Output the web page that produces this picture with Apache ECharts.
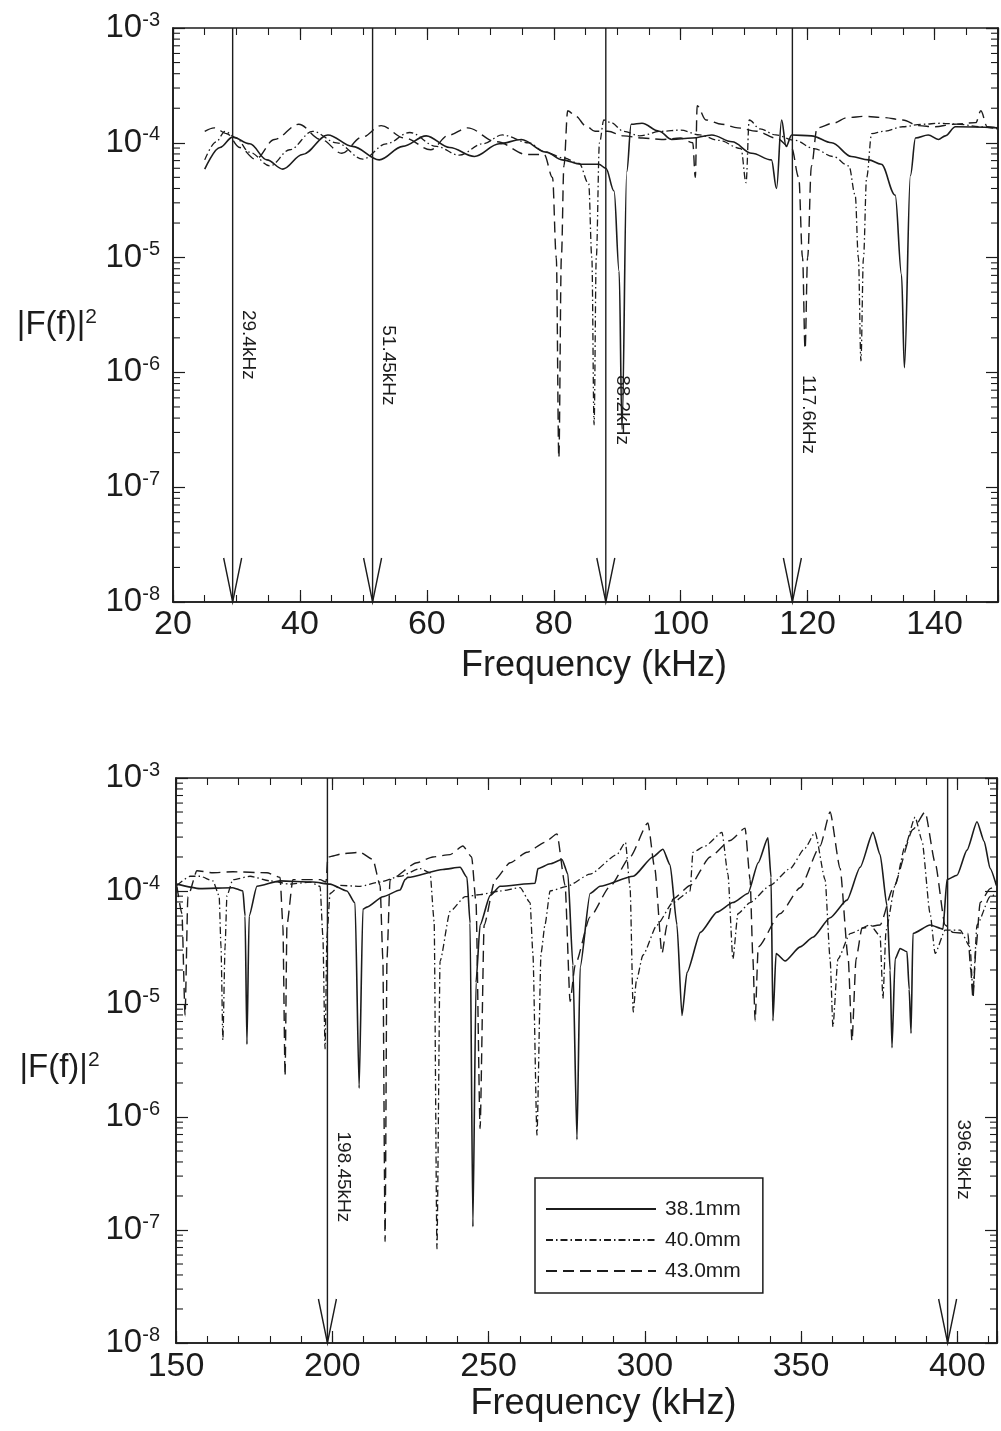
<!DOCTYPE html>
<html>
<head>
<meta charset="utf-8">
<script src="https://cdn.jsdelivr.net/npm/echarts/dist/echarts.min.js"></script>
<style>
html,body{margin:0;padding:0;background:#fff;}
#chart{width:1001px;height:1431px;}
</style>
</head>
<body>
<div id="chart"></div>
<script>
// ---------------- DATA ----------------
const seriesNames = ['38.1mm', '40.0mm', '43.0mm'];

const topFreqRange = [20, 150];
const bottomFreqRange = [150, 412.7];
const ampRange = [1e-8, 1e-3];
const topFreqTickStep = [20, 5];
const bottomFreqTickStep = [50, 10];

const topMarkerFreqs = [29.4, 51.45, 88.2, 117.6];
const topMarkerTexts = ['29.4kHz', '51.45kHz', '88.2kHz', '117.6kHz'];
const bottomMarkerFreqs = [198.45, 396.9];
const bottomMarkerTexts = ['198.45kHz', '396.9kHz'];

// |F(f)|^2 vs frequency (kHz), upper panel
const top381 = [[25.0,5.9e-5],[27.4,9.1e-5],[29.4,1.12e-4],[32.1,9.8e-5],[34.8,7.1e-5],[37.3,5.9e-5],[40.4,7.9e-5],[44.4,1.17e-4],[48.3,9.3e-5],[52.5,7.1e-5],[56.2,9.3e-5],[59.9,1.15e-4],[63.6,9.1e-5],[67.5,7.6e-5],[71.4,9.8e-5],[74.9,1.07e-4],[78.8,8.3e-5],[81.3,7.1e-5],[84.3,6.5e-5],[87.1,6.5e-5],[88.2,6.0e-5],[89.5,3.8e-5],[90.3,7.6e-6],[90.75,3.2e-7],[91.5,5.6e-5],[92.2,1.45e-4],[93.9,1.48e-4],[96.6,1.26e-4],[98.6,1.07e-4],[101.8,1.1e-4],[104.9,1.17e-4],[108.1,1.02e-4],[111.2,8.1e-5],[114.3,7.1e-5],[115.1,4.0e-5],[115.9,1.58e-4],[116.6,9.3e-5],[117.5,1.17e-4],[120.6,1.15e-4],[123.8,1.0e-4],[126.9,7.6e-5],[129.6,7.1e-5],[131.6,6.5e-5],[133.8,3.5e-5],[134.8,7.1e-6],[135.25,1.1e-6],[136.2,5.2e-5],[137.0,1.1e-4],[139.0,1.17e-4],[140.6,1.07e-4],[141.7,1.15e-4],[143.3,1.38e-4],[150,1.35e-4]];
const top400 = [[25,7.1e-5],[26.8,1.02e-4],[28.2,1.26e-4],[30.0,1.1e-4],[32.0,8.3e-5],[35.3,6.3e-5],[38.4,8.7e-5],[42.0,1.26e-4],[45.8,1.0e-4],[49.9,7.2e-5],[53.6,9.8e-5],[57.3,1.23e-4],[61.5,9.3e-5],[65.1,7.8e-5],[68.8,9.8e-5],[71.9,1.17e-4],[76.1,1.0e-4],[78.6,8.3e-5],[81.5,7.4e-5],[84.0,6.6e-5],[85.5,4.4e-5],[86.0,1.0e-5],[86.35,3.5e-7],[86.7,1.0e-5],[87.2,1.0e-4],[87.9,1.58e-4],[89,1.5e-4],[91,1.26e-4],[93.5,1.15e-4],[97,1.26e-4],[100,1.29e-4],[103,1.17e-4],[106,1.05e-4],[109.5,8.9e-5],[110.3,4.5e-5],[110.8,1.58e-4],[112.5,1.32e-4],[115,1.17e-4],[118,1.05e-4],[121,8.9e-5],[124,7.6e-5],[126.5,6.3e-5],[127.5,3.5e-5],[128.0,1.0e-5],[128.4,1.26e-6],[128.8,1.0e-5],[129.3,5.0e-5],[130.1,1.2e-4],[132,1.26e-4],[135,1.38e-4],[138,1.45e-4],[141,1.48e-4],[144,1.45e-4],[147,1.38e-4],[150,1.32e-4]];
const top430 = [[25,1.26e-4],[26.5,1.35e-4],[28.5,1.2e-4],[30.5,9.1e-5],[33.0,7.2e-5],[36.0,1.07e-4],[39.8,1.45e-4],[43.3,1.07e-4],[46.6,8.1e-5],[49.8,1.12e-4],[52.8,1.41e-4],[56.5,1.1e-4],[60.6,8.7e-5],[63.5,1.17e-4],[66.4,1.35e-4],[71.0,1.02e-4],[75.8,7.9e-5],[78.5,7.9e-5],[79.8,5.0e-5],[80.4,1.0e-5],[80.8,1.8e-7],[81.2,1.0e-5],[81.6,6.3e-5],[82.2,1.9e-4],[83.5,1.7e-4],[85.0,1.41e-4],[86.5,1.26e-4],[88.5,1.26e-4],[91,1.15e-4],[94,1.1e-4],[97,1.07e-4],[100,1.1e-4],[101.9,1.0e-4],[102.3,5.0e-5],[102.6,2.1e-4],[104,1.58e-4],[106.5,1.45e-4],[109,1.35e-4],[112,1.26e-4],[115,1.1e-4],[117.5,8.9e-5],[118.6,5.0e-5],[119.2,1.0e-5],[119.6,1.6e-6],[120.0,1.0e-5],[120.6,6.3e-5],[121.5,1.35e-4],[124,1.48e-4],[126.3,1.66e-4],[129,1.7e-4],[132,1.66e-4],[135,1.58e-4],[137.5,1.41e-4],[140,1.38e-4],[143,1.45e-4],[146.5,1.5e-4],[147.3,1.9e-4],[148.3,1.38e-4],[150,1.35e-4]];

// lower panel
const bot381 = [[150.3,1.15e-4],[157.7,1.05e-4],[168.2,1.07e-4],[171.4,1.0e-4],[172.1,6.0e-5],[172.7,4.4e-6],[173.4,6.0e-5],[175.9,1.1e-4],[183.3,1.23e-4],[193.8,1.2e-4],[199.3,1.15e-4],[204.7,1.0e-4],[207.3,7.8e-5],[208.6,1.8e-6],[209.8,6.9e-5],[211.1,7.2e-5],[216.2,8.9e-5],[221.7,1.02e-4],[223.3,1.26e-4],[224.2,1.32e-4],[235.4,1.55e-4],[240.9,1.62e-4],[243.1,1.32e-4],[244.1,5.2e-5],[245.0,1.07e-7],[246.0,1.55e-5],[247.3,5.0e-5],[250.5,9.1e-5],[253.7,1.1e-4],[264.9,1.17e-4],[265.8,1.58e-4],[269.7,1.74e-4],[273.5,1.9e-4],[275.4,1.41e-4],[277.0,2.2e-5],[278.3,6.3e-7],[279.3,2.1e-5],[282.5,9.5e-5],[285.7,1.1e-4],[296.3,1.35e-4],[302.6,2.0e-4],[305.8,2.34e-4],[308.1,1.7e-4],[310.3,5.0e-5],[311.9,7.9e-6],[313.5,1.9e-5],[317.8,4.3e-5],[323.1,6.5e-5],[328.2,7.9e-5],[333.0,9.5e-5],[336.3,1.78e-4],[339.4,2.95e-4],[340.4,1.32e-4],[341.0,7.1e-6],[342.0,2.8e-5],[344.9,2.4e-5],[349.7,3.2e-5],[353.8,3.9e-5],[359.3,5.8e-5],[364.7,8.3e-5],[368.9,1.62e-4],[373.0,3.3e-4],[375.3,2.1e-4],[377.5,7.4e-5],[378.5,2.0e-5],[379.1,4.1e-6],[380.1,2.5e-5],[381.7,3.1e-5],[383.9,2.9e-5],[384.6,1.35e-5],[385.2,5.5e-6],[385.8,4.2e-5],[391.3,5.0e-5],[395.4,4.6e-5],[396.7,1.26e-4],[399.9,1.38e-4],[403.1,2.3e-4],[406.3,4.1e-4],[408.6,2.75e-4],[410.5,1.58e-4],[412.5,1.12e-4]];
const bot400 = [[150.3,1.12e-4],[154.5,1.35e-4],[157.7,1.35e-4],[161.8,1.23e-4],[163.8,9.1e-5],[164.4,3.2e-5],[165.0,4.8e-6],[165.7,3.2e-5],[166.3,9.1e-5],[168.2,1.26e-4],[173.7,1.35e-4],[180.1,1.23e-4],[186.5,1.15e-4],[192.9,1.2e-4],[196.1,1.1e-4],[197.0,4.0e-5],[197.7,4.0e-6],[198.3,4.0e-5],[199.3,9.5e-5],[202.5,1.12e-4],[208.9,1.1e-4],[215.3,1.2e-4],[221.7,1.35e-4],[228.1,1.58e-4],[231.3,1.45e-4],[232.6,5.4e-5],[233.5,6.8e-8],[234.5,2.4e-5],[237.7,6.6e-5],[242.5,8.9e-5],[247.3,9.3e-5],[253.7,1.0e-4],[260.1,1.07e-4],[263.3,7.9e-5],[264.2,2.8e-5],[265.5,6.9e-7],[266.8,2.8e-5],[268.1,5.1e-5],[269.7,1.0e-4],[275.1,1.1e-4],[282.5,1.41e-4],[291.1,2.1e-4],[293.8,2.7e-4],[295.3,1.07e-4],[296.3,8.5e-6],[297.3,1.6e-5],[299.4,2.7e-5],[303.9,5.0e-5],[309.0,7.9e-5],[314.5,1.0e-4],[315.4,2.2e-4],[319.3,2.5e-4],[324.7,3.3e-4],[326.6,1.41e-4],[328.2,2.5e-5],[329.8,6.3e-5],[333.7,7.9e-5],[340.1,1.12e-4],[346.5,1.58e-4],[351.3,2.4e-4],[354.5,3.3e-4],[357.7,1.26e-4],[359.3,2.5e-5],[360.2,6.3e-6],[361.8,2.5e-5],[365.7,4.2e-5],[372.1,5.0e-5],[375.3,4.0e-5],[376.2,1.12e-5],[377.2,4.5e-5],[380.1,1.12e-4],[383.3,2.5e-4],[386.5,4.5e-4],[388.7,2.8e-4],[391.3,6.3e-5],[392.9,2.8e-5],[396.1,4.5e-5],[400.9,4.5e-5],[404.1,3.2e-5],[405.0,1.26e-5],[406.3,5.0e-5],[410.5,8.9e-5],[412.5,9.5e-5]];
const bot430 = [[150.3,1.1e-4],[151.9,6.3e-5],[152.9,7.9e-6],[153.8,8.9e-5],[156.7,1.51e-4],[161.8,1.45e-4],[168.2,1.48e-4],[179.1,1.45e-4],[183.3,1.32e-4],[184.2,5.0e-5],[184.9,2.3e-6],[185.5,5.0e-5],[187.4,1.26e-4],[196.1,1.26e-4],[198.0,1.2e-4],[198.6,2.0e-4],[203.4,2.14e-4],[208.9,2.2e-4],[213.0,1.9e-4],[215.3,1.12e-4],[216.2,2.5e-5],[216.9,7.9e-8],[217.5,2.5e-5],[218.5,1.26e-4],[227.1,1.78e-4],[232.2,2.0e-4],[237.7,2.1e-4],[241.8,2.5e-4],[244.6,2.0e-4],[246.0,7.9e-5],[247.3,7.9e-7],[248.6,5.0e-5],[252.1,1.26e-4],[256.9,1.78e-4],[262.3,2.2e-4],[268.1,2.7e-4],[271.9,3.2e-4],[274.5,1.12e-4],[276.1,1.05e-5],[277.7,2.2e-5],[282.5,5.9e-5],[288.9,1.1e-4],[295.3,2.0e-4],[301.0,4.0e-4],[303.2,1.58e-4],[305.5,2.8e-5],[307.1,5.0e-5],[309.0,8.5e-5],[314.5,1.12e-4],[320.9,2.0e-4],[327.3,2.8e-4],[332.1,3.6e-4],[333.7,1.26e-4],[334.6,2.5e-5],[335.3,7.1e-6],[336.3,3.2e-5],[343.3,6.3e-5],[349.7,1.07e-4],[356.1,2.5e-4],[359.3,5.0e-4],[362.5,1.58e-4],[365.1,2.5e-5],[366.3,4.7e-6],[367.6,2.5e-5],[369.5,4.7e-5],[375.3,5.0e-5],[379.4,1.05e-4],[385.8,3.5e-4],[389.7,5.0e-4],[392.9,1.78e-4],[396.1,5.0e-5],[398.6,4.3e-5],[403.4,4.2e-5],[404.3,2.0e-5],[405.0,1.12e-5],[406.0,3.2e-5],[407.3,7.9e-5],[410.5,1.05e-4],[412.5,1.12e-4]];

// ---------------- LAYOUT / STYLE ----------------
const FONT = '"Liberation Sans", Arial, Helvetica, sans-serif';
const INK = '#1c1c1c';
// vertical level (in axis units) where each marker caption is centred
const topMarkerCaptionLevel = [1.74e-6, 1.15e-6, 4.7e-7, 4.3e-7];
const bottomMarkerCaptionLevel = [2.95e-7, 4.2e-7];

const lineStyles = [
  { color: INK, width: 1.6, type: 'solid' },
  { color: INK, width: 1.3, type: [7, 3, 1.5, 3] },
  { color: INK, width: 1.4, type: [11, 6] }
];

function xAxesFor(gridIndex, range, steps, o) {
  const base = { gridIndex, type: 'value', min: range[0], max: range[1], splitLine: { show: false }, axisPointer: { show: false } };
  const tickMajor = { show: true, inside: true, length: 12, lineStyle: { color: INK, width: 1.2 } };
  const tickMinor = { show: true, inside: true, length: 7, lineStyle: { color: INK, width: 1.1 } };
  const major = steps[0];
  return [
    Object.assign({}, base, {
      position: 'bottom', interval: major,
      axisLine: { show: true, lineStyle: { color: INK, width: 1.6 } },
      axisTick: tickMajor,
      axisLabel: {
        show: true, margin: o.labelMargin, fontSize: 34, fontFamily: FONT, color: INK,
        showMaxLabel: true,
        formatter: v => (Math.abs(v / major - Math.round(v / major)) < 1e-9 ? String(Math.round(v)) : '')
      },
      name: 'Frequency (kHz)', nameLocation: 'middle', nameGap: o.nameGap,
      nameTextStyle: { fontSize: 36, fontFamily: FONT, color: INK, padding: o.namePad }
    }),
    Object.assign({}, base, { position: 'bottom', interval: steps[1], axisLine: { show: false }, axisTick: tickMinor, axisLabel: { show: false } }),
    Object.assign({}, base, { position: 'top', interval: major, axisLine: { show: false }, axisTick: tickMajor, axisLabel: { show: false } }),
    Object.assign({}, base, { position: 'top', interval: steps[1], axisLine: { show: false }, axisTick: tickMinor, axisLabel: { show: false } })
  ];
}

function yAxesFor(gridIndex, o) {
  const base = { gridIndex, type: 'log', logBase: 10, min: ampRange[0], max: ampRange[1], splitLine: { show: false }, axisPointer: { show: false } };
  const tick = { show: true, inside: true, length: 12, lineStyle: { color: INK, width: 1.2 } };
  return [
    Object.assign({}, base, {
      position: 'left',
      axisLine: { show: true, lineStyle: { color: INK, width: 1.6 } },
      axisTick: tick,
      axisLabel: {
        margin: o.labelMargin,
        formatter: v => '{b|10}{s|' + Math.round(Math.log10(v)) + '}',
        rich: {
          b: { fontSize: 33, fontFamily: FONT, color: INK, lineHeight: 36 },
          s: { fontSize: 20, fontFamily: FONT, color: INK, lineHeight: 20, verticalAlign: 'top' }
        }
      },
      name: '{b||F(f)|}{s|2}', nameLocation: 'middle', nameRotate: 0, nameGap: o.nameGap,
      nameTextStyle: {
        padding: o.namePad,
        rich: {
          b: { fontSize: 33, fontFamily: FONT, color: INK, lineHeight: 36 },
          s: { fontSize: 21, fontFamily: FONT, color: INK, lineHeight: 21, verticalAlign: 'top' }
        }
      }
    }),
    Object.assign({}, base, { position: 'right', axisLine: { show: true, lineStyle: { color: INK, width: 1.6 } }, axisTick: tick, axisLabel: { show: false } })
  ];
}

// minor decade ticks (2..9 x 10^n) on left and right y axes, placed by the axis scale
function logMinorTicks(xIdx, yIdx, xRange) {
  return {
    type: 'custom', xAxisIndex: xIdx, yAxisIndex: yIdx, silent: true, z: 6, clip: false,
    data: [[xRange[0], 1e-5]],
    renderItem: (params, api) => {
      const children = [];
      const e0 = Math.round(Math.log10(ampRange[0])), e1 = Math.round(Math.log10(ampRange[1]));
      for (let e = e0; e < e1; e++) {
        for (let k = 2; k <= 9; k++) {
          const v = k * Math.pow(10, e);
          const l = api.coord([xRange[0], v]);
          const r = api.coord([xRange[1], v]);
          children.push({ type: 'line', shape: { x1: l[0], y1: l[1], x2: l[0] + 7, y2: l[1] }, style: { stroke: INK, lineWidth: 1.1 } });
          children.push({ type: 'line', shape: { x1: r[0], y1: r[1], x2: r[0] - 7, y2: r[1] }, style: { stroke: INK, lineWidth: 1.1 } });
        }
      }
      return { type: 'group', children };
    }
  };
}

// vertical frequency markers with arrow heads and rotated captions
function markers(xIdx, yIdx, freqs, texts, levels) {
  return {
    type: 'custom', xAxisIndex: xIdx, yAxisIndex: yIdx, silent: true, z: 5, clip: false,
    data: freqs.map((f, i) => [f, levels[i]]),
    renderItem: (params, api) => {
      const f = api.value(0);
      const top = api.coord([f, ampRange[1]]);
      const bot = api.coord([f, ampRange[0]]);
      const cap = api.coord([f, api.value(1)]);
      return {
        type: 'group', children: [
          { type: 'line', shape: { x1: top[0], y1: top[1], x2: bot[0], y2: bot[1] }, style: { stroke: INK, lineWidth: 1.4 } },
          { type: 'polyline', shape: { points: [[bot[0] - 9, bot[1] - 44], [bot[0], bot[1]], [bot[0] + 9, bot[1] - 44]] }, style: { stroke: INK, fill: null, lineWidth: 1.4 } },
          { type: 'text', x: cap[0] + 16, y: cap[1], rotation: -Math.PI / 2,
            style: { text: texts[params.dataIndex], fontSize: 19, fontFamily: FONT, fill: INK, align: 'center', verticalAlign: 'middle' } }
        ]
      };
    }
  };
}

function curve(name, data, xIdx, yIdx, style, smooth) {
  return {
    type: 'line', name, data, xAxisIndex: xIdx, yAxisIndex: yIdx,
    symbol: 'none', showSymbol: false, smooth: smooth, smoothMonotone: 'x',
    lineStyle: style, itemStyle: { color: INK }, z: 3, silent: true
  };
}

const chart = echarts.init(document.getElementById('chart'), null, { renderer: 'canvas' });
const option = {
  backgroundColor: '#ffffff',
  animation: false,
  grid: [
    { left: 173, top: 28, width: 827, height: 574, show: true, borderColor: INK, borderWidth: 1.6, backgroundColor: 'transparent' },
    { left: 176, top: 778, width: 821, height: 565, show: true, borderColor: INK, borderWidth: 1.6, backgroundColor: 'transparent' }
  ],
  xAxis: [].concat(
    xAxesFor(0, topFreqRange, topFreqTickStep, { labelMargin: 6, nameGap: 46, namePad: [0, 0, 0, 17] }),
    xAxesFor(1, bottomFreqRange, bottomFreqTickStep, { labelMargin: 7, nameGap: 43, namePad: [0, 0, 0, 34] })
  ),
  yAxis: [].concat(
    yAxesFor(0, { labelMargin: 13, nameGap: 76, namePad: [20, 0, 0, 0] }),
    yAxesFor(1, { labelMargin: 16, nameGap: 76, namePad: [15, 0, 0, 0] })
  ),
  legend: {
    data: seriesNames,
    orient: 'vertical', left: 535, top: 1178,
    itemWidth: 110, itemHeight: 14, itemGap: 7,
    padding: [19, 22, 10, 10],
    borderColor: INK, borderWidth: 1.5, borderRadius: 0,
    backgroundColor: '#ffffff',
    selectedMode: false,
    itemStyle: { opacity: 0 },
    textStyle: { fontSize: 21, fontFamily: FONT, color: INK, lineHeight: 24, padding: [0, 0, 0, 4] }
  },
  series: [
    curve(seriesNames[0], top381, 0, 0, lineStyles[0], 0.35),
    curve(seriesNames[1], top400, 0, 0, lineStyles[1], 0.35),
    curve(seriesNames[2], top430, 0, 0, lineStyles[2], 0.35),
    curve(seriesNames[0], bot381, 4, 2, lineStyles[0], 0.2),
    curve(seriesNames[1], bot400, 4, 2, lineStyles[1], 0.2),
    curve(seriesNames[2], bot430, 4, 2, lineStyles[2], 0.2),
    logMinorTicks(0, 0, topFreqRange),
    logMinorTicks(4, 2, bottomFreqRange),
    markers(0, 0, topMarkerFreqs, topMarkerTexts, topMarkerCaptionLevel),
    markers(4, 2, bottomMarkerFreqs, bottomMarkerTexts, bottomMarkerCaptionLevel)
  ]
};
chart.setOption(option);
</script>
</body>
</html>
